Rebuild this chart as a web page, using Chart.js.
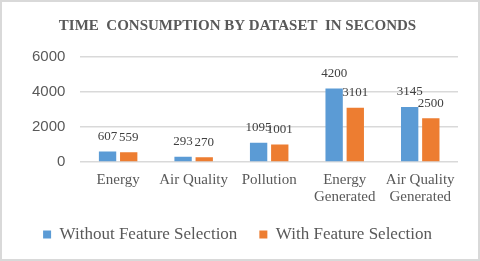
<!DOCTYPE html>
<html>
<head>
<meta charset="utf-8">
<script src="https://cdn.jsdelivr.net/npm/chart.js@4"></script>
<style>
  html, body { margin: 0; padding: 0; background: #fff; }
  #wrap { position: relative; width: 480px; height: 261px; }
  #frame { position: absolute; left: 0; top: 0; width: 480px; height: 261px;
           box-sizing: border-box; border: 2px solid #d9d9d9; pointer-events: none; }
</style>
</head>
<body>
<div id="wrap">
  <canvas id="chart" width="480" height="261"></canvas>
  <div id="frame"></div>
</div>
<script>
const CATEGORIES = [["Energy"], ["Air Quality"], ["Pollution"], ["Energy", "Generated"], ["Air Quality", "Generated"]];
const WITHOUT_FS = [607, 293, 1095, 4200, 3145];
const WITH_FS = [559, 270, 1001, 3101, 2500];
const Y_TICKS = [0, 2000, 4000, 6000];

const BLUE = "#5B9BD5";
const ORANGE = "#ED7D31";
const TEXT = "#595959";

// draws value labels above each bar
const valueLabels = {
    id: "valueLabels",
    afterDatasetsDraw(chart) {
        const ctx = chart.ctx;
        ctx.save();
        ctx.font = "13px 'Liberation Serif'";
        ctx.fillStyle = "#404040";
        ctx.textAlign = "center";
        ctx.textBaseline = "middle";
        chart.data.datasets.forEach((ds, i) => {
            chart.getDatasetMeta(i).data.forEach((bar, j) => {
                ctx.fillText(String(ds.data[j]), bar.x, bar.y - 15);
            });
        });
        ctx.restore();
    }
};

new Chart(document.getElementById("chart"), {
    type: "bar",
    data: {
        labels: CATEGORIES,
        datasets: [
            { label: "Without Feature Selection", data: WITHOUT_FS, backgroundColor: BLUE,
              categoryPercentage: 0.56, barPercentage: 0.82 },
            { label: "With Feature Selection", data: WITH_FS, backgroundColor: ORANGE,
              categoryPercentage: 0.56, barPercentage: 0.82 }
        ]
    },
    options: {
        responsive: false,
        animation: false,
        layout: { padding: { left: 17, right: 22, top: 10, bottom: 8 } },
        plugins: {
            title: {
                display: true,
                text: "TIME  CONSUMPTION BY DATASET  IN SECONDS",
                color: TEXT,
                font: { family: "'Liberation Serif'", size: 15, weight: "bold" },
                padding: { top: 7, bottom: 22 }
            },
            legend: {
                position: "bottom",
                labels: {
                    color: TEXT,
                    font: { family: "'Liberation Serif'", size: 17 },
                    boxWidth: 8,
                    boxHeight: 8,
                    padding: 22
                }
            },
            tooltip: { enabled: false }
        },
        scales: {
            x: {
                grid: { display: false, drawTicks: false },
                border: { display: false },
                afterFit: (axis) => { axis.height = 42; },
                ticks: {
                    color: TEXT,
                    font: { family: "'Liberation Serif'", size: 15, lineHeight: 1.13 },
                    maxRotation: 0,
                    autoSkip: false,
                    padding: 10
                }
            },
            y: {
                min: 0,
                max: 6000,
                afterBuildTicks: (axis) => { axis.ticks = Y_TICKS.map(v => ({ value: v })); },
                grid: { color: "#d9d9d9", lineWidth: 1.5, drawTicks: false },
                border: { display: false },
                ticks: {
                    color: TEXT,
                    font: { family: "'Liberation Sans'", size: 15 },
                    padding: 15,
                    callback: (v) => String(v)
                }
            }
        }
    },
    plugins: [valueLabels]
});
</script>
</body>
</html>
